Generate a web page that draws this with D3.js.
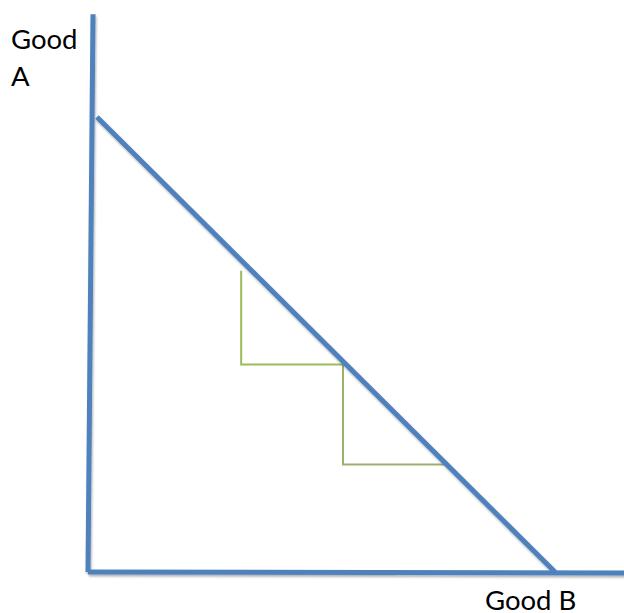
<!DOCTYPE html>
<html><head><meta charset="utf-8">
<script src="https://cdn.jsdelivr.net/npm/d3@7"></script>
<style>html,body{margin:0;padding:0;background:#fff;}svg{display:block;}</style>
</head><body>
<script>
// Data (in chart units)
const axisY = [[0, 0], [0.107, 12.26]];          // vertical axis (Good A)
const axisX = [[0, 0], [11.48, -0.02]];          // horizontal axis (Good B)
const budgetLine = [[0.19, 10], [10, 0]];         // trade-off line
const stepA = [[3.28, 6.62], [3.28, 4.56], [5.46, 4.56]];
const stepB = [[5.46, 4.56], [5.46, 2.36], [7.71, 2.36]];
const labels = ["Good", "A", "Good B"];

const W = 624, H = 613;
const x = d3.scaleLinear().domain([0, 10]).range([88, 555]);
const y = d3.scaleLinear().domain([0, 10]).range([572, 117]);

const svg = d3.select("body").append("svg").attr("width", W).attr("height", H);
const defs = svg.append("defs");
const f = defs.append("filter").attr("id", "sh").attr("x", "-10%").attr("y", "-10%").attr("width", "120%").attr("height", "120%");
f.append("feDropShadow").attr("dx", 1).attr("dy", 2).attr("stdDeviation", 1.2).attr("flood-color", "#000").attr("flood-opacity", 0.3);

const line = d3.line().x(d => x(d[0])).y(d => y(d[1]));

svg.append("path").attr("d", line(stepA)).attr("fill", "none").attr("stroke", "#9BBB59").attr("stroke-width", 2);
svg.append("path").attr("d", line(stepB)).attr("fill", "none").attr("stroke", "#9BAF6F").attr("stroke-width", 2);

const g = svg.append("g").attr("filter", "url(#sh)");
[axisY, axisX, budgetLine].forEach(p => {
  g.append("path").attr("d", line(p)).attr("fill", "none")
   .attr("stroke", "#4F81BD").attr("stroke-width", 5).attr("stroke-linecap", "butt");
});

const font = "Lato, 'Open Sans', sans-serif";
svg.append("text").attr("x", 11).attr("y", 49).text(labels[0]).attr("font-family", font).attr("font-size", 27.5).attr("fill", "#000");
svg.append("text").attr("x", 11).attr("y", 86).text(labels[1]).attr("font-family", font).attr("font-size", 27.5).attr("fill", "#000");
svg.append("text").attr("x", 485).attr("y", 610).text(labels[2]).attr("font-family", font).attr("font-size", 27.5).attr("fill", "#000");
</script>
</body></html>
